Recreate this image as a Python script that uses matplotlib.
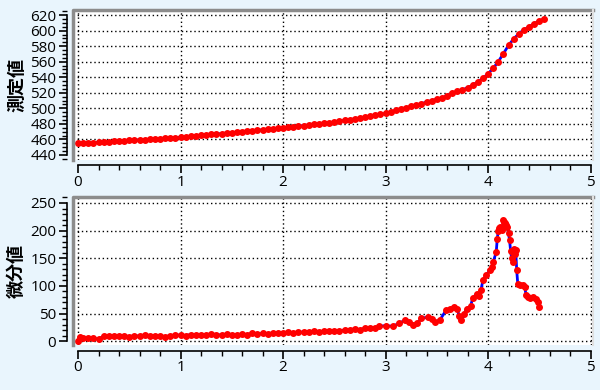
import numpy as np
import matplotlib.pyplot as plt
from matplotlib.ticker import MultipleLocator

plt.rcParams['font.family'] = ['Noto Sans CJK JP', 'DejaVu Sans']

# measured value, sampled every 0.05
meas_time = np.arange(92) * 0.05
meas_value = [455, 455.5, 455.8, 456, 456.3, 456.6, 457, 457.4, 457.8, 458.2,
              458.6, 459, 459.4, 459.8, 460.2, 460.6, 461, 461.4, 461.8, 462.3,
              462.8, 463.4, 464, 464.5, 465.1, 465.7, 466.3, 466.9, 467.5, 468.1,
              468.7, 469.3, 469.9, 470.5, 471.1, 471.7, 472.4, 473, 473.7, 474.4,
              475, 475.7, 476.4, 477.1, 477.8, 478.5, 479.2, 480, 480.8, 481.6,
              482.4, 483.4, 484.4, 485.4, 486.4, 487.5, 488.6, 489.7, 490.9, 492.1,
              493.4, 495.5, 497.2, 499, 500.8, 502.4, 504, 506, 508, 509.8,
              511.6, 513.6, 516.2, 519.2, 521.8, 523.8, 526.5, 529.8, 534, 538.8,
              544.5, 551.5, 560, 570.5, 581, 589.5, 596, 601, 605, 609,
              612.5, 615]

# derivative
diff_time = [0, 0.02, 0.05, 0.1, 0.15, 0.2, 0.25, 0.3, 0.35, 0.4, 0.45, 0.5, 0.55, 0.6,
             0.65, 0.7, 0.75, 0.8, 0.85, 0.9, 0.95, 1.0, 1.05, 1.1, 1.15, 1.2, 1.25,
             1.3, 1.35, 1.4, 1.45, 1.5, 1.55, 1.6, 1.65, 1.7, 1.75, 1.8, 1.85, 1.9,
             1.95, 2.0, 2.05, 2.1, 2.15, 2.2, 2.25, 2.3, 2.35, 2.4, 2.45, 2.5, 2.55,
             2.6, 2.65, 2.7, 2.75, 2.8, 2.85, 2.9, 2.94, 3.0, 3.07, 3.13, 3.19, 3.23,
             3.27, 3.31, 3.35, 3.41, 3.45, 3.48, 3.53, 3.59, 3.63, 3.67, 3.7, 3.72,
             3.74, 3.77, 3.79, 3.83, 3.85, 3.89, 3.91, 3.93, 3.95, 3.98, 4.02, 4.04,
             4.05, 4.08, 4.09, 4.10, 4.11, 4.12, 4.13, 4.14, 4.15, 4.16, 4.17, 4.18,
             4.19, 4.2, 4.21, 4.22, 4.23, 4.24, 4.25, 4.26, 4.27, 4.28, 4.29, 4.31,
             4.34, 4.36, 4.37, 4.39, 4.41, 4.44, 4.47, 4.49, 4.5]
diff_value = [0, 8, 6, 6, 5, 4, 9, 10, 9, 9, 10, 8, 10, 9,
              11, 10, 9, 10, 8, 10, 11, 11, 10, 12, 11, 12, 11,
              13, 12, 11, 13, 12, 11, 13, 12, 14, 13, 14, 13, 15,
              14, 14, 16, 15, 17, 16, 17, 18, 17, 18, 19, 18, 19,
              20, 21, 22, 21, 23, 24, 24, 27, 28, 27, 32, 38, 35,
              30, 32, 42, 43, 40, 35, 38, 56, 59, 61, 58, 45,
              38, 50, 59, 63, 78, 86, 82, 92, 110, 120, 128, 135,
              143, 161, 185, 200, 205, 207, 205, 202, 219, 215, 213, 210,
              207, 195, 183, 164, 150, 143, 167, 158, 165, 128, 104, 102,
              101, 98, 83, 80, 79, 80, 77, 71, 62]

bg = '#E9F5FD'
fig = plt.figure(figsize=(6, 3.9), dpi=100, facecolor=bg)
ax1 = fig.add_axes([0.1217, 0.590, 0.8666, 0.384])
ax2 = fig.add_axes([0.1217, 0.115, 0.8666, 0.380])

panels = [
    (ax1, meas_time, meas_value, '測定値', (433.6, 626.4), 5, np.arange(440, 621, 20)),
    (ax2, diff_time, diff_value, '微分値', (-7.2, 260.9), 10, np.arange(0, 251, 50)),
]

for ax, t, v, label, ylim, minor, yt in panels:
    ax.set_facecolor('white')
    ax.plot(t, v, color='#0000FF', lw=2, marker='o', markersize=4,
            markerfacecolor='#FF0000', markeredgecolor='#FF0000', zorder=3)
    ax.set_xlim(-0.049, 5.024)
    ax.set_ylim(*ylim)
    ax.set_yticks(yt)
    ax.yaxis.set_minor_locator(MultipleLocator(minor))
    ax.xaxis.set_major_locator(MultipleLocator(1))
    ax.xaxis.set_minor_locator(MultipleLocator(0.2))
    ax.grid(True, which='major', color='black', linestyle=(0, (1, 2)), lw=1)

    ax.spines['top'].set_visible(False)
    ax.spines['right'].set_visible(False)
    ax.spines['bottom'].set_position(('outward', 4))
    ax.spines['bottom'].set_bounds(0, 5)
    ax.spines['left'].set_position(('outward', 4))
    for s in ('bottom', 'left'):
        ax.spines[s].set_color('black')
        ax.spines[s].set_linewidth(1.2)
    ax.spines['left'].set_bounds(yt[0], yt[-1])

    # gray frame on left and top, light on the right
    ax.plot([0, 0, 1], [0, 1, 1], transform=ax.transAxes, color='#8C8C8C',
            lw=2.5, clip_on=False, solid_joinstyle='round', zorder=4)
    ax.plot([1, 1], [0, 1], transform=ax.transAxes, color='#E0E0E0',
            lw=1.5, clip_on=False, zorder=4)

    ax.tick_params(axis='both', which='major', direction='out', length=6,
                   width=1.2, labelsize=11, colors='black', pad=2)
    ax.tick_params(axis='both', which='minor', direction='out', length=3.5,
                   width=1, colors='black')
    ax.tick_params(axis='x', pad=1)
    for lab in ax.get_xticklabels() + ax.get_yticklabels():
        lab.set_family(['Open Sans', 'DejaVu Sans'])
    ax.set_ylabel(label, fontsize=13, fontweight='bold', labelpad=3)

fig.savefig('out.png', dpi=100, facecolor=bg)
